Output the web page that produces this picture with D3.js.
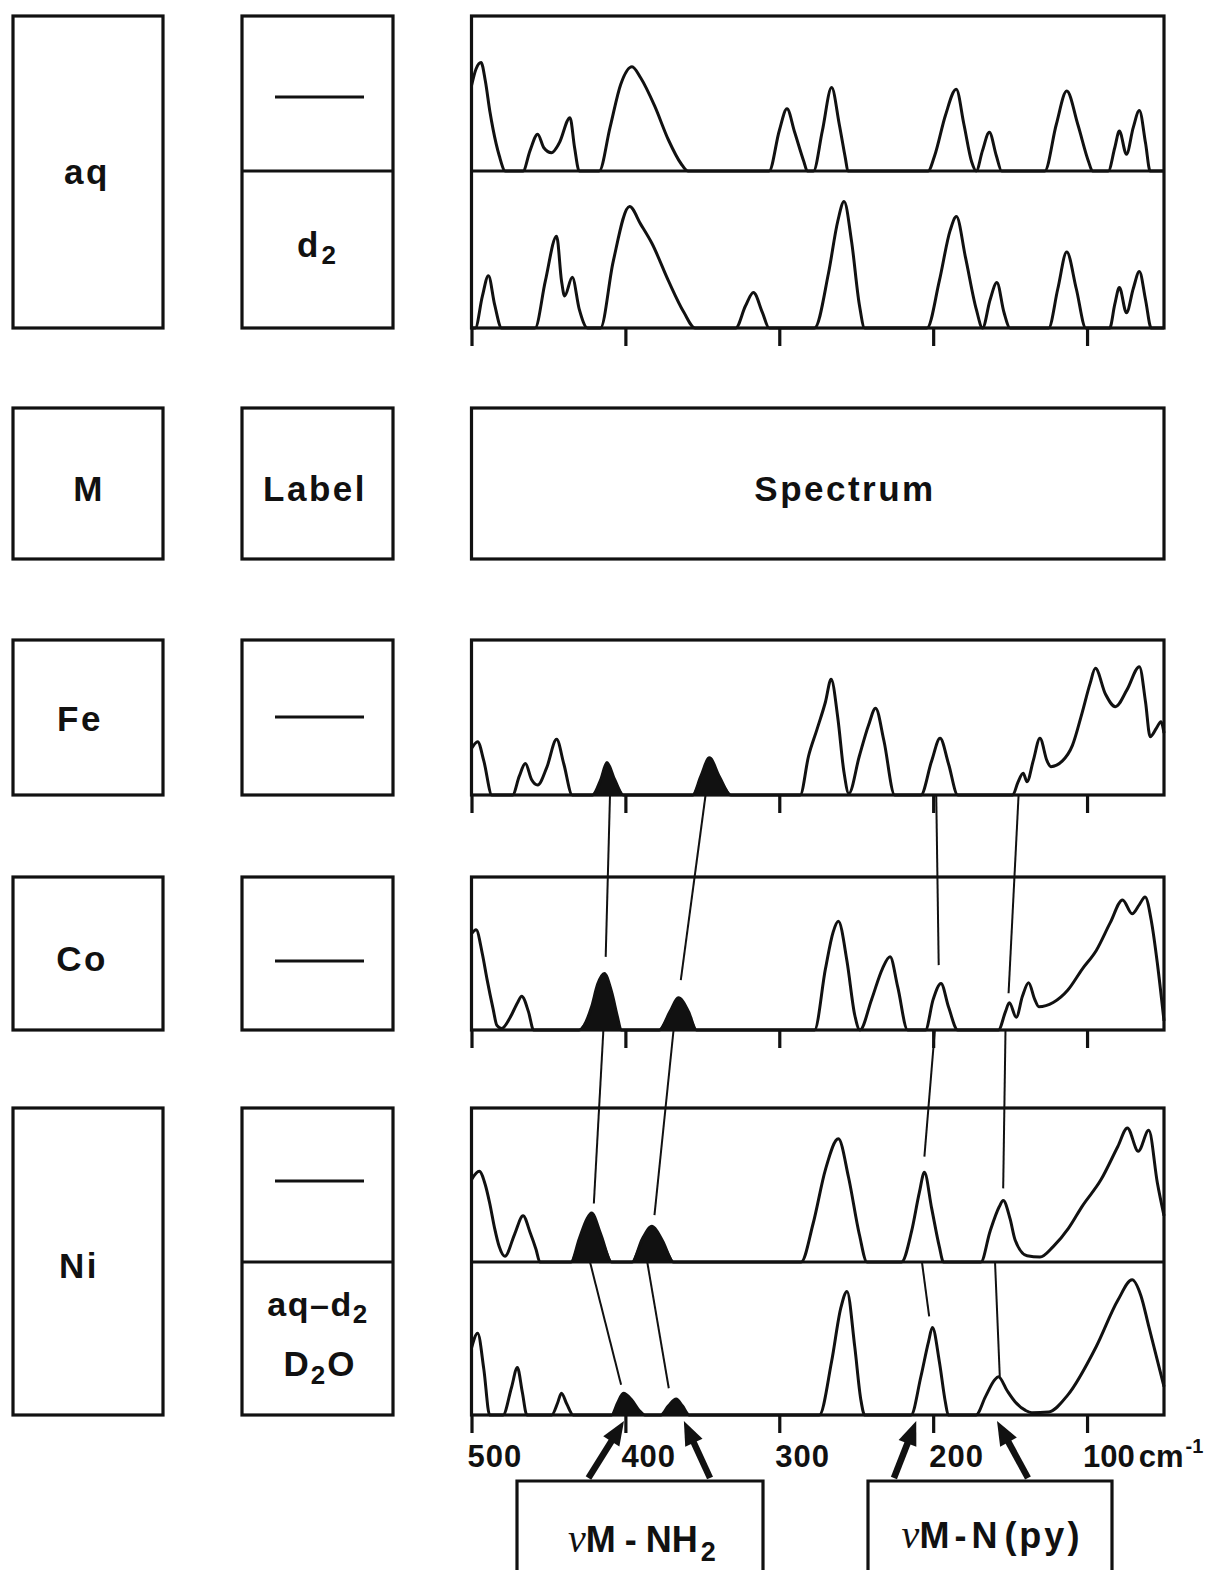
<!DOCTYPE html>
<html>
<head>
<meta charset="utf-8">
<script src="https://cdn.jsdelivr.net/npm/d3@7"></script>
<style>
body { margin: 0; background: #fff; }
text { font-family: "Liberation Sans", Arial, sans-serif; font-weight: bold; fill: #111; }
</style>
</head>
<body>
<svg id="fig" width="1212" height="1570"></svg>
<script>
// wavenumber ticks (cm-1)
const tickValues = [500, 400, 300, 200, 100];
const tickLabels = ["500", "400", "300", "200", "100"];

// spectra: [wavenumber, relative intensity %]
const specAq = [[500,55],[497,66],[493.8,70],[491,58],[488,38],[486,27],[482,10],[478,0],
  [466.5,0],[462,13],[457,23.7],[453,15],[448,11.8],[443,18],[436,34.4],[433,15],[430,0],
  [417,0],[410,28],[403,56],[395.7,67.3],[390,60],[381,42],[372,20],[364,5],[359.4,0],
  [306.6,0],[300,26],[295,40.2],[290,25],[284,6],[281.8,0],
  [277.8,0],[272,26],[266,53.8],[261,30],[257,8],[255.4,0],
  [203.3,0],[199,10],[192,36],[185,52.7],[180,30],[175,6],[172,0],
  [168,13],[163.5,25],[159,10],[155.5,0],
  [127.5,0],[120,30],[113.2,51.6],[106,30],[99,6],[96.5,0],
  [86.2,0],[82,15],[79,25.8],[74.4,10.8],[70,28],[66,39],[62,18],[59,0],[50,0]];

const specD2 = [[500,0],[497.5,0],[493,20],[489,33.3],[485,15],[480.4,0],
  [458.7,0],[452,30],[444.7,58.5],[441.5,30],[439.5,20.4],[434.5,32.3],[430,12],[424.6,0],
  [416.2,0],[408,42],[397.3,77.4],[390,66],[382.7,53.8],[372,30],[362,10],[354.7,0],
  [328.3,0],[322,14],[316.8,22.6],[311,10],[306.6,0],
  [277.1,0],[268,35],[262,68],[257.9,80.6],[253,55],[248,15],[244.5,0],
  [204,0],[196,30],[189,62],[184.9,71],[179,45],[172,12],[167.9,0],
  [163,18],[158.6,29],[154,10],[150,0],
  [125,0],[119,25],[113.2,48.4],[107,25],[100.8,0],
  [85.3,0],[82,15],[79,25.8],[74.4,9.7],[70,25],[66,36],[62,18],[58.3,0],[50,0]];

const specFe = [[500,30],[496,34.4],[492,22],[486.7,0],
  [473.3,0],[469,12],[465,20.4],[461,10],[457,6.5],[451,18],[444.7,35.9],[440,20],[434.5,0],
  [421.5,0],[416,10],[412,20.9],[407,10],[401.3,0],
  [356.3,0],[351,12],[345.4,24],[339,12],[331.4,0],
  [286.4,0],[281,25],[275.6,42],[270,60],[266.3,74.6],[262,50],[258,15],[254.8,1],
  [248,25],[242,45],[237.4,56],[232,35],[225,0],
  [208,0],[201,22],[195.5,36.6],[190,20],[184,0],
  [148.3,0],[145,8],[141.5,14],[139,8.6],[135,22],[130.6,36.6],[126,22],[123.5,18.3],
  [116,22],[109.5,32],[103.3,52.7],[98,72],[94.6,81.7],[88,65],[81.6,57],[74,68],[66,82.8],
  [62,60],[59,37.6],[55,43],[52,47.3],[50,40]];

const specCo = [[500,63],[497,65.6],[493,50],[489.8,32.6],[486,14],[483.5,3],[480.4,1],[475,8],
  [470,18],[467.4,22],[463,12],[459.6,0],
  [430.2,0],[422,15],[418,30],[413.7,37],[409,25],[405,8],[402.8,0],
  [378,0],[371,12],[365.6,21],[359,12],[353.8,0],
  [277.1,0],[270,40],[265,64],[261.6,71],[256,45],[251,10],[247.6,0],
  [240,20],[233,40],[228,47.8],[223,28],[216.6,0],
  [205,0],[200,20],[194.9,30.4],[190,15],[184,0],
  [157.6,0],[153,12],[150.5,17.8],[146,8.3],[142,22],[138,30.9],[134,20],[131.3,15.2],
  [122,18],[112.6,26],[103,40],[94,52],[85,70],[76.9,85],[70.7,76],[66,82],[62.3,87],
  [58,70],[54.3,43.5],[50,6]];

const specNiAq = [[500,53.5],[495,58.9],[491,50],[488.2,38.3],[485,22],[482,10],[478.3,3.7],
  [472,18],[466.5,30],[461.8,18.8],[458,8],[455.6,0],
  [435.4,0],[430,15],[425,28],[422,31.8],[416,18],[409,0],
  [395.7,0],[389,15],[382.7,23.2],[376,14],[368.7,0],
  [285.8,0],[278,25],[270,60],[261.6,80],[255,55],[248,18],[243,0],
  [220.6,0],[214,20],[209,45],[205.7,58.2],[201,35],[196,10],[193.3,0],
  [169,0],[163,20],[157,36],[154.5,40],[150,28],[146.8,14.5],[139,4],[130.6,3.2],[122,10],
  [112,22],[103.3,36],[90.9,53.5],[80,75],[73.8,87],[66.7,71.9],[59.9,85.5],[54.3,51.3],[50,30]];

const specNiD2 = [[500,43.7],[496,53.5],[492,30],[488.2,0],
  [479.5,0],[474,18],[470.2,31],[467,15],[464,0],
  [447.9,0],[444,8],[441.6,14.2],[438,7],[433.9,0],
  [409,0],[405,8],[401.3,14.2],[396,10],[391,3],[387.3,0],
  [377,0],[372,6],[367,10.5],[363,6],[358.5,0],
  [274,0],[266,35],[260,70],[256,80.8],[251,45],[247,10],[244.5,0],
  [214.4,0],[208,25],[203,48],[200.5,57.2],[196,35],[192,8],[190.2,0],
  [172.2,0],[166,12],[160,23],[157.6,25],[152,16],[146.8,8.7],[140,3],[135.9,1.5],[125,2],
  [112.6,13],[94,44.8],[80,75],[70.7,88.4],[65,78],[59.9,57.9],[50,18.6]];

// black (filled) bands: [from wn, to wn]
const filledFe = [[421.5,401.3],[356.3,331.4]];
const filledCo = [[430.2,402.8],[378,353.8]];
const filledNiAq = [[435.4,409],[395.7,368.7]];
const filledNiD2 = [[409,387.3],[377,358.5]];

// correlation lines: [wn at upper baseline, wn at end, intensity % at end]
const linksFeCo = [[410,412.8,47.8],[347.9,364,32.6],[198,196.4,42.4],[144.5,151,24]];
const linksCoNi = [[414.3,420.5,38],[368.7,381.1,30.5],[198.9,205.7,68.4],[153,154.5,47.8]];
const linksNi = [[423,402.8,19.7],[385.8,371.8,17.5],[207.3,202.6,64.4],[159.8,156.7,25]];

// arrows: [tip wn, tail wn]
const arrowsNH2 = [[400.9,424],[362,345]];
const arrowsNpy = [[211,225.5],[158.5,138.4]];

const svg = d3.select("#fig");
svg.append("rect").attr("width", 1212).attr("height", 1570).attr("fill", "#fff");

const x = d3.scaleLinear().domain([500, 50]).range([471.5, 1164]);

// spectrum sub-panels
const panels = {
  aq:   {top: 16,   bottom: 171},
  d2:   {top: 171,  bottom: 328},
  fe:   {top: 640,  bottom: 795},
  co:   {top: 877,  bottom: 1030},
  niAq: {top: 1108, bottom: 1262},
  niD2: {top: 1262, bottom: 1415}
};
Object.values(panels).forEach(p => {
  p.y = d3.scaleLinear().domain([0, 100]).range([p.bottom, p.top]);
});

const ink = "#111";

// outer boxes
function box(x0, y0, x1, y1) {
  svg.append("rect").attr("x", x0).attr("y", y0).attr("width", x1 - x0).attr("height", y1 - y0)
    .attr("fill", "none").attr("stroke", ink).attr("stroke-width", 3.2);
}
const rows = [
  {top: 16, bottom: 328, split: 171},
  {top: 408, bottom: 559},
  {top: 640, bottom: 795},
  {top: 877, bottom: 1030},
  {top: 1108, bottom: 1415, split: 1262}
];
rows.forEach(r => {
  box(13, r.top, 163, r.bottom);
  box(242, r.top, 393, r.bottom);
  box(x(500), r.top, x(50), r.bottom);
  if (r.split) {
    svg.append("line").attr("x1", 242).attr("x2", 393).attr("y1", r.split).attr("y2", r.split)
      .attr("stroke", ink).attr("stroke-width", 3.2);
    svg.append("line").attr("x1", x(500)).attr("x2", x(50)).attr("y1", r.split).attr("y2", r.split)
      .attr("stroke", ink).attr("stroke-width", 3.2);
  }
});

// dashes in label column (plain aqueous sample)
[97, 717, 961, 1181].forEach(yy => {
  svg.append("line").attr("x1", 275).attr("x2", 364).attr("y1", yy).attr("y2", yy)
    .attr("stroke", ink).attr("stroke-width", 3);
});

// labels
function label(txt, cx, base) {
  return svg.append("text").attr("x", cx).attr("y", base).attr("text-anchor", "middle")
    .attr("font-size", 35).attr("letter-spacing", 2.5).text(txt);
}
label("aq", 87, 184);
label("M", 89, 501);
label("Label", 315, 501);
label("Spectrum", 845, 501);
label("Fe", 80, 731);
label("Co", 82, 971);
label("Ni", 79, 1278);

const d2 = svg.append("text").attr("x", 318).attr("y", 257).attr("text-anchor", "middle")
  .attr("font-size", 35).attr("letter-spacing", 3);
d2.append("tspan").text("d");
d2.append("tspan").attr("dy", 7).attr("font-size", 26).text("2");

const aqd2 = svg.append("text").attr("x", 318).attr("y", 1316).attr("text-anchor", "middle")
  .attr("font-size", 34).attr("letter-spacing", 1.5);
aqd2.append("tspan").text("aq\u2013d");
aqd2.append("tspan").attr("dy", 7).attr("font-size", 26).text("2");

const d2o = svg.append("text").attr("x", 320).attr("y", 1376).attr("text-anchor", "middle")
  .attr("font-size", 35).attr("letter-spacing", 2);
d2o.append("tspan").text("D");
d2o.append("tspan").attr("dy", 8).attr("font-size", 26).text("2");
d2o.append("tspan").attr("dy", -8).text("O");

// spectra
function drawSpectrum(data, p, filled) {
  const line = d3.line().x(d => x(d[0])).y(d => p.y(d[1])).curve(d3.curveMonotoneX);
  (filled || []).forEach(([a, b]) => {
    const seg = data.filter(d => d[0] <= a && d[0] >= b);
    const area = d3.area().x(d => x(d[0])).y0(p.y(0)).y1(d => p.y(d[1])).curve(d3.curveMonotoneX);
    svg.append("path").attr("d", area(seg)).attr("fill", ink);
  });
  svg.append("path").attr("d", line(data)).attr("fill", "none")
    .attr("stroke", ink).attr("stroke-width", 3).attr("stroke-linejoin", "round");
}
drawSpectrum(specAq, panels.aq);
drawSpectrum(specD2, panels.d2);
drawSpectrum(specFe, panels.fe, filledFe);
drawSpectrum(specCo, panels.co, filledCo);
drawSpectrum(specNiAq, panels.niAq, filledNiAq);
drawSpectrum(specNiD2, panels.niD2, filledNiD2);

// tick marks under each spectrum block
[panels.d2, panels.fe, panels.co, panels.niD2].forEach(p => {
  const g = svg.append("g").attr("transform", `translate(0,${p.bottom})`)
    .call(d3.axisBottom(x).tickValues(tickValues).tickSize(18).tickFormat(""));
  g.select(".domain").remove();
  g.selectAll(".tick line").attr("stroke", ink).attr("stroke-width", 3.2);
});

// tick labels
const tl = svg.append("g").selectAll("text").data(tickValues).join("text")
  .attr("x", d => x(d) - 4).attr("y", 1467).attr("font-size", 31)
  .attr("letter-spacing", d => d === 100 ? 0 : 1)
  .text((d, i) => tickLabels[i]);
tl.filter(d => d === 100).append("tspan").attr("dx", 4).text("cm");
tl.filter(d => d === 100).append("tspan").attr("dy", -14).attr("dx", 2).attr("font-size", 20).text("-1");

// correlation lines
function links(list, from, to) {
  list.forEach(([a, b, h]) => {
    svg.append("line").attr("x1", x(a)).attr("y1", from.y(0)).attr("x2", x(b)).attr("y2", to.y(h))
      .attr("stroke", ink).attr("stroke-width", 2);
  });
}
links(linksFeCo, panels.fe, panels.co);
links(linksCoNi, panels.co, panels.niAq);
links(linksNi, panels.niAq, panels.niD2);

// arrows
function arrow(tipWn, tailWn) {
  const tx = x(tipWn), ty = 1421, sx = x(tailWn), sy = 1478;
  const dx = tx - sx, dy = ty - sy, len = Math.hypot(dx, dy);
  const ux = dx / len, uy = dy / len, hl = 24, hw = 9.5;
  const bx = tx - ux * hl, by = ty - uy * hl;
  svg.append("line").attr("x1", sx).attr("y1", sy).attr("x2", bx + ux * 2).attr("y2", by + uy * 2)
    .attr("stroke", ink).attr("stroke-width", 6.5);
  svg.append("path")
    .attr("d", `M${tx},${ty}L${bx - uy * hw},${by + ux * hw}L${bx + uy * hw},${by - ux * hw}Z`)
    .attr("fill", ink);
}
arrowsNH2.forEach(a => arrow(a[0], a[1]));
arrowsNpy.forEach(a => arrow(a[0], a[1]));

// assignment boxes
function openBox(x0, x1) {
  svg.append("path").attr("d", `M${x0},1572V1481H${x1}V1572`).attr("fill", "none")
    .attr("stroke", ink).attr("stroke-width", 3.2);
}
openBox(517, 763);
openBox(868, 1112);

const t1 = svg.append("text").attr("x", 642).attr("y", 1552).attr("text-anchor", "middle").attr("font-size", 36);
t1.append("tspan").attr("font-family", "'Liberation Serif', serif").attr("font-style", "italic")
  .attr("font-weight", "normal").attr("font-size", 40).text("\u03bd");
t1.append("tspan").text("M");
t1.append("tspan").attr("dx", 9).text("-");
t1.append("tspan").attr("dx", 9).text("NH");
t1.append("tspan").attr("dy", 9).attr("dx", 3).attr("font-size", 27).text("2");

const t2 = svg.append("text").attr("x", 992).attr("y", 1548).attr("text-anchor", "middle").attr("font-size", 36);
t2.append("tspan").attr("font-family", "'Liberation Serif', serif").attr("font-style", "italic")
  .attr("font-weight", "normal").attr("font-size", 40).text("\u03bd");
t2.append("tspan").text("M");
t2.append("tspan").attr("dx", 5).text("-");
t2.append("tspan").attr("dx", 5).text("N");
t2.append("tspan").attr("dx", 7).attr("letter-spacing", 3).text("(py)");
</script>
</body>
</html>
